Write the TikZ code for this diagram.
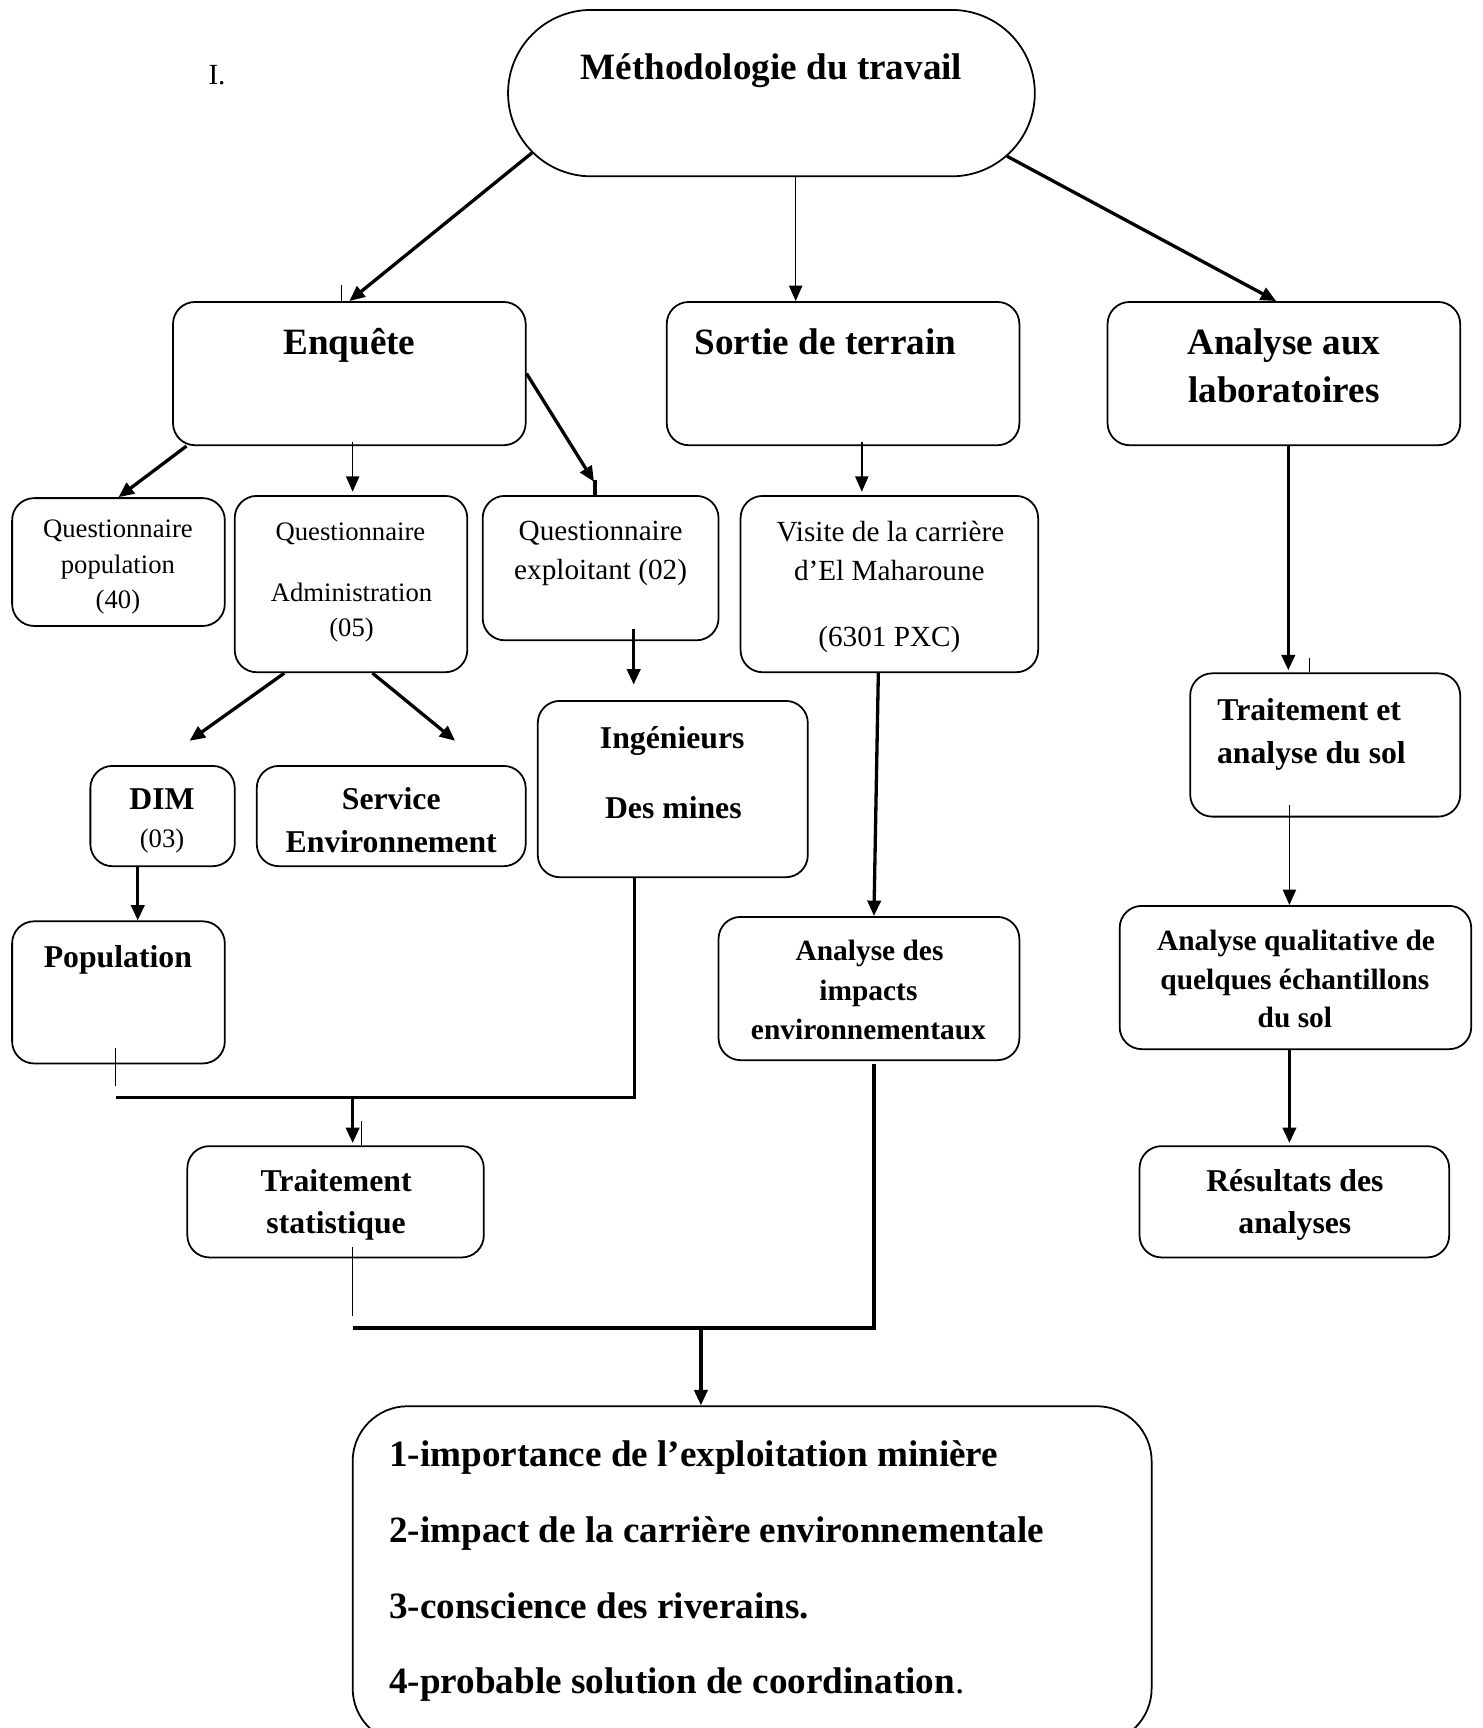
\documentclass[tikz,border=0pt]{standalone}
\usepackage{fontspec}
\setmainfont{Liberation Serif}
\usetikzlibrary{positioning, arrows.meta, shapes.misc, calc}

\begin{document}
\begin{tikzpicture}[
    x=1pt, y=-1pt,
    box/.style={draw, line width=1.6pt, rectangle, rounded corners=20pt, inner sep=0pt},
    titlebox/.style={draw, line width=1.6pt, rounded rectangle, inner sep=0pt},
    tbig/.style={inner sep=0pt, text height=22pt, text depth=0pt, font=\fontsize{33.7pt}{40pt}\selectfont\bfseries},
    tmid/.style={inner sep=0pt, text height=19pt, text depth=0pt, font=\fontsize{28.8pt}{34pt}\selectfont\bfseries},
    tsub/.style={inner sep=0pt, text height=17.6pt, text depth=0pt, font=\fontsize{26.7pt}{32pt}\selectfont\bfseries},
    tnorm/.style={inner sep=0pt, text height=17.5pt, text depth=0pt, font=\fontsize{26.5pt}{32pt}\selectfont},
    tsmall/.style={inner sep=0pt, text height=16pt, text depth=0pt, font=\fontsize{24.2pt}{29pt}\selectfont},
    arr/.style={line width=3pt, -{Triangle[length=14pt, width=12pt]}},
    arrthin/.style={line width=1.4pt, -{Triangle[length=14pt, width=12pt]}},
    ln/.style={line width=3pt},
    lnthin/.style={line width=1.2pt}
  ]
  \useasboundingbox (0,0) rectangle (1345,1568);

  % titre
  \node[titlebox, minimum width=478pt, minimum height=151pt] (title) at (700,84.5) {};
  \node[tbig] (tTitle) at (700,61) {Méthodologie du travail};
  \node[tnorm, anchor=west] (tNum) at (189,68) {I.};

  % ── niveau 1 ──
  \node[box, minimum width=320pt, minimum height=130pt] (enq) at (317,339) {};
  \node[tbig] (tEnq) at (317,311) {Enquête};
  \node[box, minimum width=320pt, minimum height=130pt] (sortie) at (765,339) {};
  \node[tbig] (tSortie) at (749,311) {Sortie de terrain};
  \node[box, minimum width=320pt, minimum height=130pt] (labo) at (1165,339) {};
  \node[tbig] (tLabo1) at (1165,311) {Analyse aux};
  \node[tbig] (tLabo2) at (1165,354) {laboratoires};

  % ── niveau 2 ──
  \node[box, minimum width=193pt, minimum height=116pt] (qpop) at (107.5,510) {};
  \node[tsmall] (tQpop1) at (107,480) {Questionnaire};
  \node[tsmall] (tQpop2) at (107,512) {population};
  \node[tsmall] (tQpop3) at (107,544) {(40)};

  \node[box, minimum width=211pt, minimum height=160pt] (qadm) at (318.5,530) {};
  \node[tsmall] (tQadm1) at (318,482) {Questionnaire};
  \node[tsmall] (tQadm2) at (319,538) {Administration};
  \node[tsmall] (tQadm3) at (319,570) {(05)};

  \node[box, minimum width=214pt, minimum height=131pt] (qexp) at (545,515.5) {};
  \node[tnorm] (tQexp1) at (545,482) {Questionnaire};
  \node[tnorm] (tQexp2) at (545,517) {exploitant (02)};

  \node[box, minimum width=270pt, minimum height=160pt] (visite) at (807,530) {};
  \node[tnorm] (tVis1) at (808,483) {Visite de la carrière};
  \node[tnorm] (tVis2) at (807,518) {d’El Maharoune};
  \node[tnorm] (tVis3) at (807,578) {(6301 PXC)};

  % ── niveau 3 ──
  \node[box, minimum width=131pt, minimum height=91pt] (dim) at (147.5,740.5) {};
  \node[tmid] (tDim1) at (147,725) {DIM};
  \node[tsmall] (tDim2) at (147,761) {(03)};

  \node[box, minimum width=244pt, minimum height=91pt] (serv) at (355,740.5) {};
  \node[tmid] (tServ1) at (355,725) {Service};
  \node[tmid] (tServ2) at (355,764) {Environnement};

  \node[box, minimum width=245pt, minimum height=160pt] (ing) at (610.5,716) {};
  \node[tmid] (tIng1) at (610,670) {Ingénieurs};
  \node[tmid] (tIng2) at (611,733) {Des mines};

  \node[box, minimum width=245pt, minimum height=130pt] (trsol) at (1202.5,676) {};
  \node[tmid] (tTrs1) at (1188,644) {Traitement et};
  \node[tmid] (tTrs2) at (1190,683) {analyse du sol};

  % ── niveau 4 ──
  \node[box, minimum width=193pt, minimum height=129pt] (popu) at (107.5,900.5) {};
  \node[tmid] (tPopu) at (107,868) {Population};

  \node[box, minimum width=273pt, minimum height=130pt] (impacts) at (788.5,897) {};
  \node[tsub] (tImp1) at (789,863) {Analyse des};
  \node[tsub] (tImp2) at (788,899) {impacts};
  \node[tsub] (tImp3) at (788,934) {environnementaux};

  \node[box, minimum width=319pt, minimum height=130pt] (qualit) at (1175.5,887) {};
  \node[tsub] (tQual1) at (1176,854) {Analyse qualitative de};
  \node[tsub] (tQual2) at (1175,889) {quelques échantillons};
  \node[tsub] (tQual3) at (1175,924) {du sol};

  % ── niveau 5 ──
  \node[box, minimum width=269pt, minimum height=101pt] (stat) at (304.5,1090.5) {};
  \node[tmid] (tStat1) at (305,1072) {Traitement};
  \node[tmid] (tStat2) at (305,1110) {statistique};

  \node[box, minimum width=281pt, minimum height=101pt] (result) at (1174.5,1090.5) {};
  \node[tmid] (tRes1) at (1175,1072) {Résultats des};
  \node[tmid] (tRes2) at (1175,1110) {analyses};

  % ── synthèse ──
  \node[box, rounded corners=50pt, minimum width=725pt, minimum height=306pt] (synth) at (682.5,1429) {};
  \node[tbig, anchor=west] (tSyn1) at (353,1320) {1-importance de l’exploitation minière};
  \node[tbig, anchor=west] (tSyn2) at (353,1389) {2-impact de la carrière environnementale};
  \node[tbig, anchor=west] (tSyn3) at (353,1458) {3-conscience des riverains.};
  \node[tbig, anchor=west] (tSyn4) at (353,1526) {4-probable solution de coordination\textmd{.}};

  % liaisons
  \draw[arr] (title.194) -- (enq.north);
  \draw[lnthin] ($(enq.north)+(-7,0)$) -- ++(0,-15);
  \draw[arrthin] ([xshift=22pt]title.south) -- ([xshift=-43pt]sortie.north);
  \draw[arr] (title.345) -- ([xshift=-7pt]labo.north);

  \draw[arr] ([xshift=13pt]enq.south west) -- (qpop.north);
  \draw[arrthin] ([xshift=3pt,yshift=4pt]enq.south) -- ([xshift=1.5pt,yshift=3pt]qadm.north);
  \draw[arr] (enq.east) -- ($(qexp.north)+(-6,-12)$);
  \draw[ln] ($(qexp.north)+(-5,-14)$) -- ([xshift=-5pt]qexp.north);
  \draw[arrthin] ([xshift=17pt,yshift=4pt]sortie.south) -- ([xshift=-25pt,yshift=3pt]visite.north);
  \draw[arr] ([xshift=4pt]labo.south) -- ([xshift=-33.5pt,yshift=2pt]trsol.north);
  \draw[lnthin] ([xshift=-14.5pt]trsol.north) -- ++(0,-13);

  \draw[arr] ([xshift=-60.5pt]qadm.south) -- ($(dim.north)+(24.5,-22)$);
  \draw[arr] ([xshift=19.5pt]qadm.south) -- ($(serv.north)+(58,-22)$);
  \draw[arr] ([xshift=30pt,yshift=11pt]qexp.south) -- ($(ing.north)+(-35.5,-14)$);
  \draw[arr] ([xshift=-22.5pt]dim.south) -- ([xshift=17.5pt]popu.north);
  \draw[arr] ([xshift=-10pt]visite.south) -- ([xshift=4.5pt]impacts.north);
  \draw[arrthin] ([xshift=-32.5pt,yshift=11pt]trsol.south) -- ([xshift=-5.5pt]qualit.north);
  \draw[arr] ([xshift=-5.5pt]qualit.south) -- ([xshift=-4.5pt,yshift=2pt]result.north);

  % regroupement enquête
  \coordinate (bus1) at (576,996);
  \coordinate (bus1g) at (105,996);
  \coordinate (bus1m) at (320,996);
  \draw[lnthin] ([xshift=-2.5pt,yshift=15pt]popu.south) -- ++(0,35);
  \draw[ln] ([xshift=-34.5pt]ing.south) -- (bus1) -- (bus1g);
  \draw[arr] (bus1m) -- ([xshift=15.5pt,yshift=2pt]stat.north);
  \draw[lnthin] ([xshift=23.5pt]stat.north) -- ++(0,-22);

  % regroupement final
  \coordinate (bus2) at (793,1205);
  \coordinate (bus2g) at (320,1205);
  \coordinate (bus2m) at (636,1205);
  \draw[lnthin] ([xshift=15.5pt,yshift=10pt]stat.south) -- ++(0,62);
  \draw[ln] ([xshift=4.5pt,yshift=-3pt]impacts.south) -- (bus2) -- (bus2g);
  \draw[arr] (bus2m) -- ([xshift=-46.5pt]synth.north);

\end{tikzpicture}
\end{document}
